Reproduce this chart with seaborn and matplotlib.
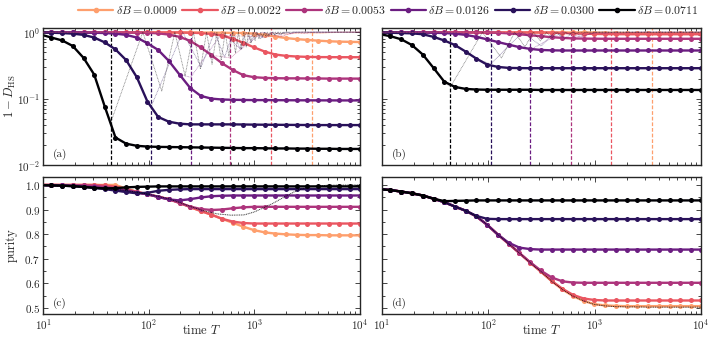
import pandas as pd
import seaborn as sns
import matplotlib.pyplot as plt
from matplotlib.lines import Line2D
from matplotlib.ticker import MultipleLocator

sns.set_style("ticks")
plt.rcParams["font.family"] = "serif"
plt.rcParams["font.serif"] = ["cmr10"]
plt.rcParams["mathtext.fontset"] = "cm"
plt.rcParams["axes.formatter.use_mathtext"] = True

# field strengths (legend order) and colours sampled from magma
dB = ["0.0009", "0.0022", "0.0053", "0.0126", "0.0300", "0.0711"]
cmap = sns.color_palette("magma", as_cmap=True)
colors = [cmap(x) for x in [0.8, 0.64, 0.48, 0.32, 0.16, 0.0]]

# time grid of the marked curves
T = [10, 12, 15.2, 19.1, 24.2, 30.5, 38.5, 48.5, 61.2, 77.2, 97.4, 123, 155, 196, 247,
     311, 393, 496, 625, 789, 995, 1256, 1585, 2000, 2523, 3183, 4016, 5067, 6393, 8066, 10000]

# crossing times (dashed verticals), same order as dB
t_cross = [3490, 1430, 593, 249, 105, 44]

# panel (a): 1 - D_HS
a_0009 = [0.995, 0.995, 0.995, 0.995, 0.995, 0.995, 0.995, 0.995, 0.99, 0.99, 0.99, 0.99, 0.99, 0.99, 0.99,
          0.985, 0.985, 0.98, 0.975, 0.97, 0.95, 0.91, 0.86, 0.815, 0.785, 0.765, 0.745, 0.73, 0.72, 0.715, 0.71]
a_0022 = [0.995, 0.995, 0.995, 0.99, 0.99, 0.99, 0.99, 0.99, 0.99, 0.99, 0.99, 0.99, 0.99, 0.99, 0.98,
          0.97, 0.94, 0.89, 0.80, 0.69, 0.59, 0.51, 0.46, 0.44, 0.43, 0.425, 0.422, 0.421, 0.42, 0.42, 0.42]
a_0053 = [0.995, 0.995, 0.99, 0.99, 0.99, 0.99, 0.99, 0.99, 0.985, 0.985, 0.98, 0.96, 0.92, 0.85, 0.74,
          0.59, 0.45, 0.34, 0.27, 0.225, 0.21, 0.205, 0.203, 0.202, 0.202, 0.201, 0.201, 0.2, 0.2, 0.2, 0.2]
a_0126 = [0.995, 0.99, 0.99, 0.99, 0.985, 0.98, 0.97, 0.95, 0.91, 0.83, 0.68, 0.54, 0.37, 0.23, 0.145,
          0.11, 0.1, 0.097, 0.096, 0.0955, 0.095, 0.095, 0.0948, 0.0946, 0.0944, 0.0943, 0.0942, 0.0941, 0.094, 0.094, 0.094]
a_0300 = [0.99, 0.98, 0.97, 0.95, 0.91, 0.83, 0.70, 0.55, 0.38, 0.21, 0.09, 0.053, 0.045, 0.042, 0.041,
          0.041, 0.041, 0.041, 0.041, 0.0408, 0.0406, 0.0405, 0.0404, 0.0403, 0.0402, 0.0401, 0.04, 0.04, 0.04, 0.04, 0.04]
a_0711 = [0.90, 0.83, 0.75, 0.62, 0.41, 0.23, 0.075, 0.026, 0.021, 0.0195, 0.019, 0.0188, 0.0187, 0.0186, 0.0185,
          0.0184, 0.0183, 0.0182, 0.0181, 0.018, 0.018, 0.0179, 0.0178, 0.0178, 0.0177, 0.0177, 0.0176, 0.0176, 0.0175, 0.0175, 0.0175]

# panel (b): 1 - D_HS
b_0009 = [0.995, 0.995, 0.995, 0.995, 0.995, 0.995, 0.995, 0.995, 0.995, 0.995, 0.99, 0.99, 0.99, 0.99, 0.99,
          0.99, 0.99, 0.99, 0.99, 0.99, 0.985, 0.98, 0.975, 0.97, 0.967, 0.965, 0.965, 0.965, 0.965, 0.965, 0.965]
b_0022 = [0.995, 0.995, 0.995, 0.995, 0.995, 0.995, 0.995, 0.995, 0.99, 0.99, 0.99, 0.99, 0.99, 0.99, 0.99,
          0.99, 0.985, 0.975, 0.96, 0.95, 0.94, 0.935, 0.932, 0.93, 0.93, 0.93, 0.93, 0.93, 0.93, 0.93, 0.93]
b_0053 = [0.995, 0.995, 0.995, 0.995, 0.995, 0.99, 0.99, 0.99, 0.99, 0.99, 0.99, 0.98, 0.96, 0.93, 0.90,
          0.87, 0.84, 0.82, 0.805, 0.80, 0.797, 0.795, 0.795, 0.795, 0.795, 0.795, 0.795, 0.795, 0.795, 0.795, 0.795]
b_0126 = [0.995, 0.99, 0.99, 0.99, 0.985, 0.98, 0.97, 0.95, 0.91, 0.85, 0.78, 0.71, 0.65, 0.595, 0.56,
          0.54, 0.533, 0.53, 0.53, 0.53, 0.53, 0.53, 0.53, 0.53, 0.53, 0.53, 0.53, 0.53, 0.53, 0.53, 0.53]
b_0300 = [0.99, 0.98, 0.97, 0.96, 0.93, 0.85, 0.75, 0.64, 0.51, 0.40, 0.325, 0.30, 0.29, 0.288, 0.287,
          0.287, 0.287, 0.287, 0.287, 0.287, 0.287, 0.287, 0.287, 0.287, 0.287, 0.287, 0.287, 0.287, 0.287, 0.287, 0.287]
b_0711 = [0.92, 0.87, 0.78, 0.64, 0.46, 0.29, 0.18, 0.15, 0.14, 0.137, 0.136, 0.136, 0.136, 0.136, 0.136,
          0.135, 0.135, 0.135, 0.135, 0.135, 0.135, 0.135, 0.135, 0.135, 0.135, 0.135, 0.135, 0.135, 0.135, 0.135, 0.135]

# panel (c): purity
c_0009 = [1.0, 1.0, 1.0, 1.0, 1.0, 1.0, 1.0, 1.0, 0.985, 0.972, 0.962, 0.952, 0.942, 0.927, 0.91,
          0.894, 0.879, 0.862, 0.846, 0.83, 0.816, 0.807, 0.802, 0.799, 0.797, 0.796, 0.796, 0.795, 0.795, 0.795, 0.795]
c_0022 = [1.0, 1.0, 1.0, 1.0, 1.0, 1.0, 0.998, 0.993, 0.983, 0.972, 0.962, 0.952, 0.942, 0.927, 0.91,
          0.894, 0.879, 0.862, 0.851, 0.845, 0.843, 0.843, 0.843, 0.843, 0.843, 0.843, 0.843, 0.843, 0.843, 0.843, 0.843]
c_0053 = [1.0, 1.0, 0.999, 0.999, 0.998, 0.996, 0.992, 0.986, 0.979, 0.97, 0.962, 0.952, 0.942, 0.927, 0.912,
          0.902, 0.898, 0.9, 0.905, 0.909, 0.911, 0.911, 0.911, 0.911, 0.911, 0.911, 0.911, 0.911, 0.911, 0.911, 0.911]
c_0126 = [0.999, 0.998, 0.998, 0.996, 0.993, 0.99, 0.986, 0.981, 0.976, 0.969, 0.962, 0.951, 0.941, 0.937, 0.942,
          0.949, 0.954, 0.956, 0.957, 0.957, 0.957, 0.957, 0.957, 0.957, 0.957, 0.957, 0.957, 0.957, 0.957, 0.957, 0.957]
c_0300 = [0.999, 0.998, 0.997, 0.995, 0.992, 0.988, 0.983, 0.977, 0.971, 0.966, 0.968, 0.976, 0.98, 0.982, 0.983,
          0.983, 0.983, 0.983, 0.983, 0.983, 0.983, 0.983, 0.983, 0.983, 0.983, 0.983, 0.983, 0.983, 0.983, 0.983, 0.983]
c_0711 = [0.999, 0.998, 0.997, 0.995, 0.992, 0.988, 0.986, 0.987, 0.99, 0.992, 0.993, 0.994, 0.994, 0.994, 0.994,
          0.994, 0.994, 0.994, 0.994, 0.994, 0.994, 0.994, 0.994, 0.994, 0.994, 0.994, 0.994, 0.994, 0.994, 0.994, 0.994]

# panel (d): purity
d_0009 = [0.982, 0.979, 0.973, 0.966, 0.957, 0.944, 0.93, 0.912, 0.895, 0.872, 0.838, 0.798, 0.761, 0.723, 0.684,
          0.648, 0.609, 0.575, 0.548, 0.528, 0.515, 0.51, 0.508, 0.507, 0.507, 0.507, 0.507, 0.507, 0.507, 0.507, 0.507]
d_0022 = [0.982, 0.979, 0.973, 0.966, 0.957, 0.944, 0.93, 0.912, 0.895, 0.872, 0.838, 0.798, 0.761, 0.723, 0.684,
          0.648, 0.61, 0.578, 0.553, 0.538, 0.532, 0.53, 0.53, 0.53, 0.53, 0.53, 0.53, 0.53, 0.53, 0.53, 0.53]
d_0053 = [0.982, 0.979, 0.973, 0.966, 0.957, 0.944, 0.93, 0.912, 0.895, 0.872, 0.838, 0.798, 0.761, 0.723, 0.686,
          0.652, 0.624, 0.608, 0.603, 0.602, 0.602, 0.602, 0.602, 0.602, 0.602, 0.602, 0.602, 0.602, 0.602, 0.602, 0.602]
d_0126 = [0.982, 0.979, 0.973, 0.966, 0.957, 0.944, 0.93, 0.912, 0.895, 0.872, 0.838, 0.798, 0.765, 0.745, 0.739,
          0.737, 0.737, 0.737, 0.737, 0.737, 0.737, 0.737, 0.737, 0.737, 0.737, 0.737, 0.737, 0.737, 0.737, 0.737, 0.737]
d_0300 = [0.982, 0.979, 0.973, 0.966, 0.957, 0.944, 0.93, 0.912, 0.895, 0.874, 0.862, 0.861, 0.861, 0.861, 0.861,
          0.861, 0.861, 0.861, 0.861, 0.861, 0.861, 0.861, 0.861, 0.861, 0.861, 0.861, 0.861, 0.861, 0.861, 0.861, 0.861]
d_0711 = [0.982, 0.979, 0.973, 0.966, 0.957, 0.944, 0.934, 0.935, 0.936, 0.937, 0.937, 0.937, 0.937, 0.937, 0.937,
          0.937, 0.937, 0.937, 0.937, 0.937, 0.937, 0.937, 0.937, 0.937, 0.937, 0.937, 0.937, 0.937, 0.937, 0.937, 0.937]

# thin dotted (un-averaged) curves: dip times and dip depths, per dB
a_dip_t = [[3490], [1430, 4290], [593, 1780, 2966], [250, 748, 1246, 1745, 2243],
           [105, 314, 524, 733, 942, 1152, 1361, 1571, 1780, 1990, 2199],
           [44, 133, 221, 309, 398, 486, 575, 663, 752, 840, 929, 1017, 1106, 1194, 1283, 1371, 1460, 1548, 1637, 1725, 1814, 1902]]
a_dip_v = [[0.95], [0.85, 0.97], [0.41, 0.85, 0.95], [0.21, 0.55, 0.82, 0.92, 0.95],
           [0.075, 0.30, 0.42, 0.56, 0.72, 0.80, 0.87, 0.90, 0.92, 0.94, 0.95],
           [0.045, 0.13, 0.22, 0.28, 0.33, 0.38, 0.43, 0.49, 0.55, 0.6, 0.68, 0.75, 0.8, 0.84, 0.87, 0.89, 0.91, 0.92, 0.93, 0.94, 0.945, 0.95]]
b_dip_t = [[3490], [1430], [593, 1780], [250, 748, 1246], [105, 314, 524, 733, 942],
           [44, 133, 221, 309, 398, 486, 575, 663]]
b_dip_v = [[0.98], [0.95], [0.82, 0.96], [0.55, 0.85, 0.95], [0.33, 0.62, 0.8, 0.9, 0.95],
           [0.15, 0.41, 0.6, 0.74, 0.83, 0.89, 0.93, 0.95]]
dip_peak = 1.0

c_dot_t = [10, 30, 60, 100, 160, 250, 330, 450, 600, 800, 1000, 1500, 2000, 2600, 3400, 5000, 10000]
c_dot_v = [0.998, 0.99, 0.978, 0.962, 0.942, 0.912, 0.895, 0.882, 0.877, 0.878, 0.89, 0.925, 0.955, 0.98, 0.993, 0.999, 1.0]
d_dot_v = [0.982, 0.979, 0.973, 0.966, 0.957, 0.944, 0.93, 0.912, 0.895, 0.872, 0.838, 0.798, 0.761, 0.723, 0.684,
           0.648, 0.609, 0.575, 0.548, 0.528, 0.514, 0.508, 0.505, 0.504, 0.504, 0.503, 0.503, 0.503, 0.503, 0.503, 0.503]

panels = {
    "a": [a_0009, a_0022, a_0053, a_0126, a_0300, a_0711],
    "b": [b_0009, b_0022, b_0053, b_0126, b_0300, b_0711],
    "c": [c_0009, c_0022, c_0053, c_0126, c_0300, c_0711],
    "d": [d_0009, d_0022, d_0053, d_0126, d_0300, d_0711],
}


def long_df(series):
    rows = []
    for lab, ys in zip(dB, series):
        for t, v in zip(T, ys):
            rows.append((t, v, lab))
    return pd.DataFrame(rows, columns=["T", "value", "dB"])


def dip_path(ys, dts, dvs):
    xs = [t for t, v in zip(T, ys) if t < dts[0] and v > dvs[0]]
    vs = [v for t, v in zip(T, ys) if t < dts[0] and v > dvs[0]]
    for t, v in zip(dts, dvs):
        xs += [t, t + dts[0]]
        vs += [v, dip_peak]
    return xs + [T[-1]], vs + [dip_peak]


fig = plt.figure(figsize=(7.09, 3.39), dpi=100)
axes = {
    "a": fig.add_axes([0.0607, 0.513, 0.447, 0.404]),
    "b": fig.add_axes([0.5388, 0.513, 0.4499, 0.404]),
    "c": fig.add_axes([0.0607, 0.0737, 0.447, 0.404]),
    "d": fig.add_axes([0.5388, 0.0737, 0.4499, 0.404]),
}

for key, ax in axes.items():
    sns.lineplot(data=long_df(panels[key]), x="T", y="value", hue="dB", hue_order=dB,
                 palette=colors, marker="o", markersize=3.6, markeredgewidth=0,
                 lw=1.7, markevery=slice(1, None), estimator=None, sort=False,
                 legend=False, ax=ax)
    ax.set_xscale("log")
    ax.set_xlim(10, 10000)
    if key in "ab":
        ax.set_yscale("log")
        ax.set_ylim(0.01, 1.15)
        dts, dvs = (a_dip_t, a_dip_v) if key == "a" else (b_dip_t, b_dip_v)
        for ys, dt, dv, c, tc in zip(panels[key], dts, dvs, colors, t_cross):
            ax.axvline(tc, color=c, lw=0.9, ls=(0, (3, 1.5)), zorder=1)
            xs, vs = dip_path(ys, dt, dv)
            ax.plot(xs, vs, color=c, lw=0.6, ls=(0, (1, 0.8)), alpha=0.5, zorder=3)
        ax.tick_params(labelbottom=False)
        ax.set_xlabel("")
    else:
        ax.set_ylim(0.475, 1.032)
        ax.yaxis.set_major_locator(MultipleLocator(0.1))
        ax.yaxis.set_minor_locator(MultipleLocator(0.05))
        if key == "c":
            ax.plot(c_dot_t, c_dot_v, color="black", lw=0.7, ls=(0, (1, 0.8)), alpha=0.8, zorder=3)
        else:
            ax.plot(T, d_dot_v, color="black", lw=0.7, ls=(0, (1, 0.8)), alpha=0.8, zorder=3)
        ax.set_xlabel("time $T$", fontsize=9)
        ax.xaxis.set_label_coords(0.5, -0.075)
    if key in "bd":
        ax.tick_params(labelleft=False)
        ax.set_ylabel("")
    ax.tick_params(which="both", direction="in", top=True, right=True, labelsize=8, width=0.6, pad=2)
    ax.tick_params(which="major", length=3.5)
    ax.tick_params(which="minor", length=2)
    for s in ax.spines.values():
        s.set_linewidth(1.0)
    ax.text(0.03, 0.06, f"({key})", transform=ax.transAxes, fontsize=8)

axes["a"].set_ylabel(r"$1 - D_{\mathrm{HS}}$", fontsize=9)
axes["a"].yaxis.set_label_coords(-0.08, 0.5)
axes["c"].set_ylabel("purity", fontsize=9)
axes["c"].yaxis.set_label_coords(-0.08, 0.5)

handles = [Line2D([], [], color=c, lw=1.6, marker="o", markersize=3) for c in colors]
labels = [rf"$\delta B = {d}$" for d in dB]
fig.legend(handles, labels, loc="upper right", bbox_to_anchor=(1.0, 1.02), ncol=6,
           frameon=False, fontsize=8.5, handlelength=3.0, handletextpad=0.2, columnspacing=0.4)

fig.savefig("out.png", dpi=100)
